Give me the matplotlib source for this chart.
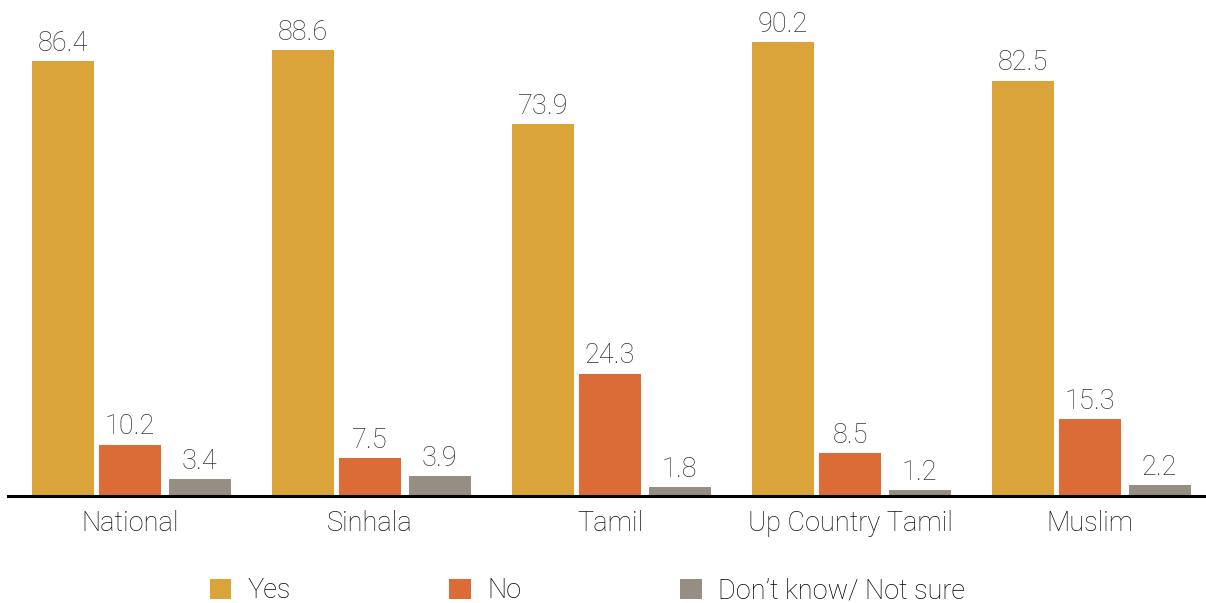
import matplotlib
matplotlib.use('Agg')
import matplotlib.pyplot as plt
import numpy as np

plt.rcParams['font.family'] = ['Roboto', 'DejaVu Sans']

groups = ['National', 'Sinhala', 'Tamil', 'Up Country Tamil', 'Muslim']
series = ['Yes', 'No', 'Don\u2019t know/ Not sure']
yes = [86.4, 88.6, 73.9, 90.2, 82.5]
no = [10.2, 7.5, 24.3, 8.5, 15.3]
dk = [3.4, 3.9, 1.8, 1.2, 2.2]
colors = ['#DBA43A', '#DC6C37', '#968D83']

fig = plt.figure(figsize=(12.06, 6.03), dpi=100)
ax = fig.add_axes([8/1206, 107/603, 1 - 8/1206, 1 - 107/603])

x = np.arange(len(groups))
offsets = [-0.28, 0.0, 0.29]
w = 0.258
for vals, off, c, name in zip([yes, no, dk], offsets, colors, series):
    bars = ax.bar(x + off, vals, w, color=c, label=name)
    for b, v in zip(bars, vals):
        ax.annotate(f'{v}', (b.get_x() + b.get_width()/2, v), xytext=(0, 3),
                    textcoords='offset points', ha='center', va='bottom',
                    fontsize=19.5, color='#333333', fontweight='light')

ax.set_xlim(-0.508, 4.483)
ax.set_ylim(0, 98.5)
ax.set_xticks(x)
ax.set_xticklabels(groups, fontsize=19.5, fontweight='light', color='#111111')
ax.tick_params(axis='x', length=0, pad=10)
ax.set_yticks([])
for s in ['top', 'right', 'left']:
    ax.spines[s].set_visible(False)
ax.spines['bottom'].set_linewidth(2.2)

fig.legend(loc='center', bbox_to_anchor=(0.487, 0.02), ncol=3, frameon=False,
           handlelength=0.8, handleheight=0.8, handletextpad=0.6,
           columnspacing=5.85, prop={'weight': 'light', 'size': 19.5})

fig.savefig('out.png', dpi=100)
